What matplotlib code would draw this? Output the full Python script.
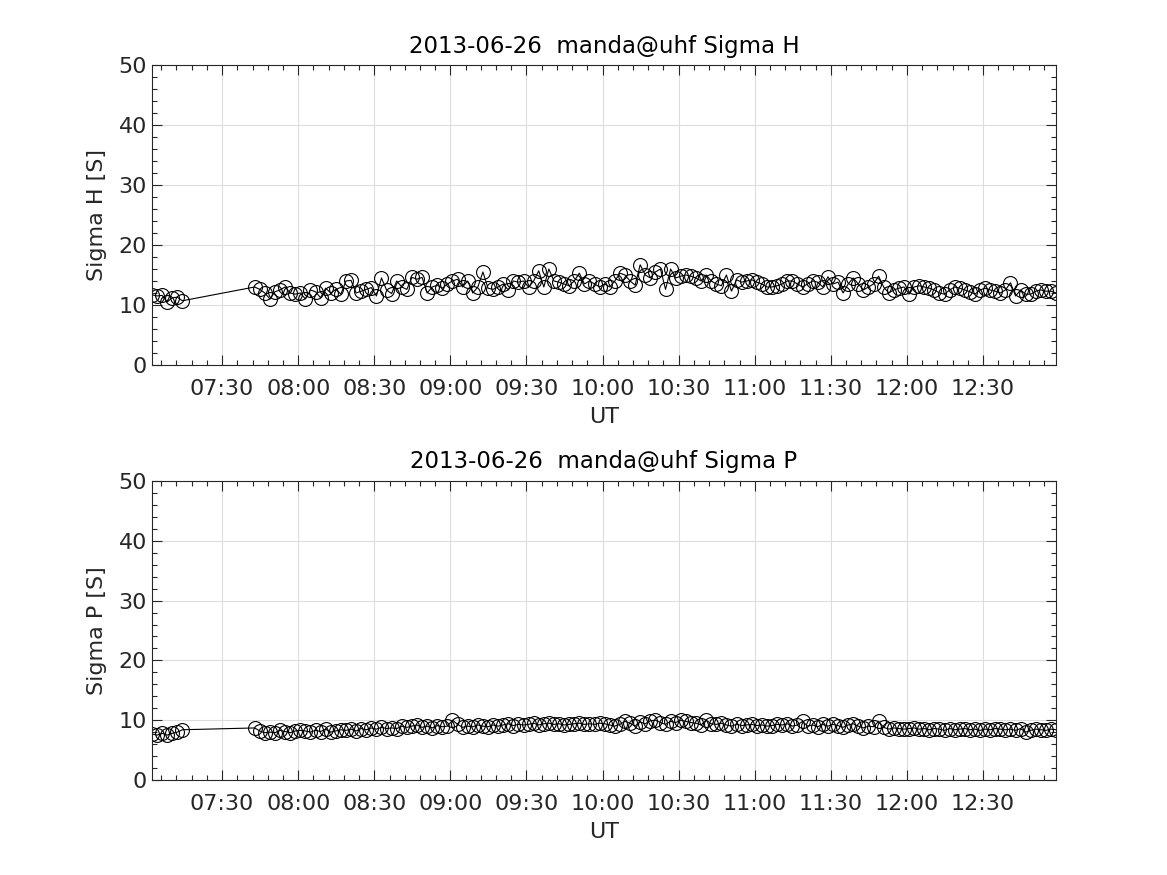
import datetime as dt
import numpy as np
import matplotlib
matplotlib.use('Agg')
import matplotlib.pyplot as plt
import matplotlib.dates as mdates
from matplotlib.ticker import MultipleLocator

# Sample times: two runs of 2-minute records with a gap between them
day = dt.datetime(2013, 6, 26)
seg1_start = day + dt.timedelta(hours=7, minutes=2, seconds=20)
seg2_start = day + dt.timedelta(hours=7, minutes=42, seconds=50)
n_seg1 = 7
n_seg2 = 159

# Sigma H [S]
sigma_h = [
    11.7, 11.5, 11.6, 10.5, 11.2, 11.3, 10.7,
    13.0, 12.6, 12.0, 11.0, 12.2, 12.5, 13.0, 12.0, 11.8,
    12.0, 11.0, 12.5, 12.2, 11.2, 12.8, 12.0, 12.6, 11.8, 14.0, 14.1, 12.0, 12.3, 12.6, 12.9,
    11.5, 14.5, 12.5, 11.9, 14.0, 13.0, 12.6, 14.6, 14.3, 14.6, 12.0, 13.0, 13.3, 12.8, 13.5,
    14.0, 14.3, 13.0, 14.0, 12.0, 13.0, 15.5, 12.8, 12.6, 13.0, 13.5, 12.5, 14.0, 13.8, 14.0,
    13.0, 14.0, 15.7, 13.0, 16.0, 14.0, 13.8, 13.5, 13.2, 14.0, 15.3, 13.5, 14.0, 13.5, 13.0,
    13.5, 13.0, 14.0, 15.3, 15.0, 14.0, 13.3, 16.7, 15.0, 14.5, 15.5, 16.0, 12.6, 16.0, 14.5,
    14.8, 15.0, 14.8, 14.5, 14.0, 15.0, 14.0, 13.5, 13.2, 15.0, 12.3, 14.2, 13.8, 14.0, 14.2,
    13.8, 13.5, 13.0, 13.0, 13.2, 13.5, 14.0, 14.0, 13.5, 13.0, 13.5, 14.0, 13.8, 13.0, 14.7,
    13.5, 13.8, 12.0, 13.5, 14.5, 13.5, 12.5, 13.0, 13.5, 14.8, 13.0, 12.0, 12.5, 12.8, 13.0,
    11.8, 13.0, 13.2, 13.0, 12.8, 12.5, 12.0, 11.8, 12.5, 13.0, 12.8, 12.5, 12.2, 11.8, 12.5,
    12.8, 12.5, 12.3, 12.0, 12.5, 13.7, 11.5, 12.5, 11.8, 11.8, 12.3, 12.5, 12.3, 12.3, 12.0,
]

# Sigma P [S]
sigma_p = [
    7.7, 7.5, 7.8, 7.5, 7.8, 8.0, 8.4,
    8.7, 8.2, 7.9, 8.0, 7.9, 8.3, 8.1, 7.9, 8.2,
    8.3, 8.2, 8.0, 8.3, 8.1, 8.5, 8.0, 8.2, 8.4, 8.3, 8.5, 8.2, 8.6, 8.4, 8.7,
    8.5, 8.8, 8.6, 8.7, 8.6, 9.0, 8.8, 9.0, 9.2, 8.8, 9.0, 8.7, 9.1, 8.9, 9.0,
    10.0, 9.3, 8.8, 9.0, 8.9, 9.2, 9.0, 8.9, 9.2, 9.0, 9.2, 9.4, 9.1, 9.3, 9.2,
    9.3, 9.5, 9.2, 9.4, 9.5, 9.3, 9.4, 9.2, 9.3, 9.4, 9.5, 9.3, 9.4, 9.3, 9.5,
    9.4, 9.2, 9.0, 9.3, 9.8, 9.5, 9.0, 9.7, 9.4, 9.9, 10.0, 9.6, 9.3, 9.8, 9.6,
    10.0, 9.8, 9.6, 9.5, 9.2, 10.0, 9.4, 9.3, 9.5, 9.2, 9.0, 9.3, 9.1, 9.2, 9.3,
    9.1, 9.2, 9.0, 9.1, 9.3, 9.2, 9.4, 9.0, 9.2, 9.8, 9.0, 9.2, 8.9, 9.3, 9.0,
    9.3, 9.1, 8.8, 9.2, 9.4, 9.0, 8.7, 9.0, 8.9, 9.8, 8.8, 8.5, 8.7, 8.6, 8.5,
    8.6, 8.7, 8.5, 8.6, 8.4, 8.6, 8.5, 8.3, 8.6, 8.4, 8.5, 8.6, 8.4, 8.5, 8.3,
    8.5, 8.4, 8.6, 8.5, 8.4, 8.5, 8.3, 8.6, 8.0, 8.3, 8.5, 8.4, 8.3, 8.5, 8.4,
]

times = [seg1_start + dt.timedelta(minutes=2 * i) for i in range(n_seg1)] + \
        [seg2_start + dt.timedelta(minutes=2 * i) for i in range(n_seg2)]

panels = [
    (sigma_h, 'Sigma H [S]', '2013-06-26  manda@uhf Sigma H', [0.1302, 0.5829, 0.7748, 0.3428]),
    (sigma_p, 'Sigma P [S]', '2013-06-26  manda@uhf Sigma P', [0.1302, 0.1086, 0.7748, 0.3417]),
]

fig = plt.figure(figsize=(11.67, 8.75), dpi=100)

for values, ylabel, title, rect in panels:
    ax = fig.add_axes(rect)
    ax.plot(times, values, color='black', linewidth=0.8, marker='o', markersize=10,
            markerfacecolor='none', markeredgecolor='black', markeredgewidth=0.8)

    ax.set_xlim(times[0], times[-1])
    ax.set_ylim(0, 50)
    ax.yaxis.set_major_locator(MultipleLocator(10))
    ax.yaxis.set_minor_locator(MultipleLocator(2))
    ax.xaxis.set_major_locator(mdates.MinuteLocator(byminute=[0, 30]))
    ax.xaxis.set_minor_locator(mdates.MinuteLocator(byminute=range(0, 60, 6)))
    ax.xaxis.set_major_formatter(mdates.DateFormatter('%H:%M'))

    ax.grid(True, which='major', color='#dcdcdc', linewidth=0.8)
    ax.set_axisbelow(True)
    ax.tick_params(which='both', direction='in', top=True, right=True,
                   labelsize=16, labelcolor='#262626', color='#262626')
    ax.tick_params(which='major', length=7, width=0.8)
    ax.tick_params(which='minor', length=3.5, width=0.8)
    ax.tick_params(axis='x', which='major', pad=10)
    for spine in ax.spines.values():
        spine.set_color('#262626')
        spine.set_linewidth(0.8)

    ax.set_xlabel('UT', fontsize=16, color='#262626', labelpad=6)
    ax.set_ylabel(ylabel, fontsize=16, color='#262626', labelpad=8)
    ax.set_title(title, fontsize=16.5, color='black', pad=9)

fig.savefig('out.png', dpi=100)
